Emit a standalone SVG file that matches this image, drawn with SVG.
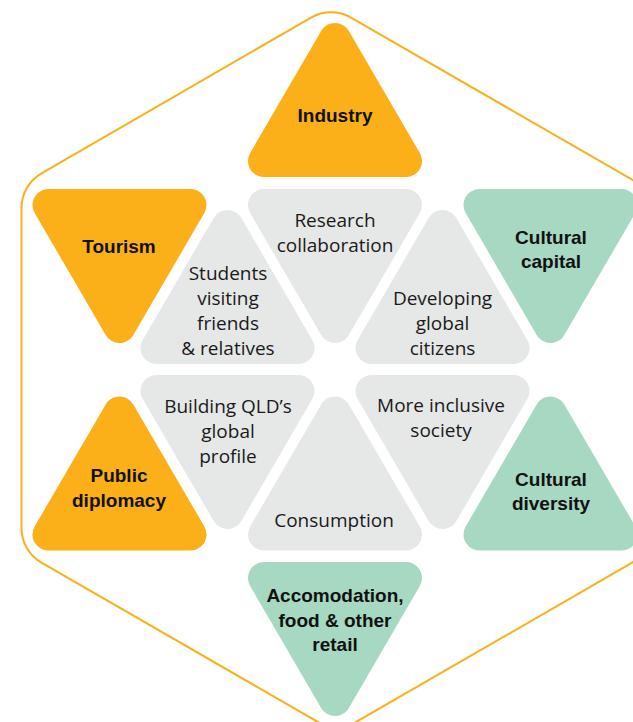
<svg xmlns="http://www.w3.org/2000/svg" width="633" height="722" viewBox="0 0 633 722">
<style>
.tri{stroke-width:32;stroke-linejoin:round}
.o{fill:#FBB019;stroke:#FBB019}
.g{fill:#A7D8C2;stroke:#A7D8C2}
.y{fill:#E6E7E7;stroke:#E6E7E7}
.b{font-family:"Liberation Sans",Arial,sans-serif;font-weight:bold;font-size:19px;fill:#111;text-anchor:middle}
.r{font-family:"Open Sans",sans-serif;font-size:19px;fill:#1a1a1a;text-anchor:middle}
</style>
<rect width="633" height="722" fill="#fff"/>
<g id="frame">
<path d="M311,17.55 A40,40 0 0 1 351,17.55 L630,178.45 A40,40 0 0 1 650,213.1 L650,529.3 A40,40 0 0 1 630,563.95 L357,721.45 A40,40 0 0 1 317,721.45 L41.5,562.55 A40,40 0 0 1 21.5,527.9 L21.5,208.1 A40,40 0 0 1 41.5,173.45 Z" fill="none" stroke="#FBB019" stroke-width="2"/>
</g>
<g id="industry"><polygon class="tri o" points="335,39 406,161 264,161"/><text class="b" x="335" y="122">Industry</text></g>
<g id="tourism"><polygon class="tri o" points="48.5,205 190.5,205 119.5,327"/><text class="b" x="119" y="253">Tourism</text></g>
<g id="research"><polygon class="tri y" points="264,205 406,205 335,327"/><text class="r" x="335" y="227">Research</text><text class="r" x="335" y="252">collaboration</text></g>
<g id="cultural-capital"><polygon class="tri g" points="479.5,205 621.5,205 550.5,327"/><text class="b" x="551" y="244">Cultural</text><text class="b" x="551" y="268">capital</text></g>
<g id="students"><polygon class="tri y" points="227.5,226 298.5,348 156.5,348"/><text class="r" x="228" y="280">Students</text><text class="r" x="228" y="305">visiting</text><text class="r" x="228" y="330">friends</text><text class="r" x="228" y="355">&amp; relatives</text></g>
<g id="developing"><polygon class="tri y" points="442.5,226 513.5,348 371.5,348"/><text class="r" x="442.5" y="305">Developing</text><text class="r" x="442.5" y="330">global</text><text class="r" x="442.5" y="355">citizens</text></g>
<g id="building"><polygon class="tri y" points="156.5,391 298.5,391 227.5,513"/><text class="r" x="228" y="413">Building QLD’s</text><text class="r" x="228" y="438">global</text><text class="r" x="228" y="463">profile</text></g>
<g id="inclusive"><polygon class="tri y" points="371.5,391 513.5,391 442.5,513"/><text class="r" x="441" y="412">More inclusive</text><text class="r" x="441" y="437">society</text></g>
<g id="public-diplomacy"><polygon class="tri o" points="119.5,412.5 190.5,534.5 48.5,534.5"/><text class="b" x="119" y="482">Public</text><text class="b" x="119" y="507">diplomacy</text></g>
<g id="consumption"><polygon class="tri y" points="335,412.5 406,534.5 264,534.5"/><text class="r" x="334" y="527">Consumption</text></g>
<g id="cultural-diversity"><polygon class="tri g" points="550.5,412.5 621.5,534.5 479.5,534.5"/><text class="b" x="551" y="486">Cultural</text><text class="b" x="551" y="510">diversity</text></g>
<g id="accomodation"><polygon class="tri g" points="264,578 406,578 335,700"/><text class="b" x="335" y="602">Accomodation,</text><text class="b" x="335" y="627">food &amp; other</text><text class="b" x="335" y="651">retail</text></g>
<g id="connectors"/>
</svg>
